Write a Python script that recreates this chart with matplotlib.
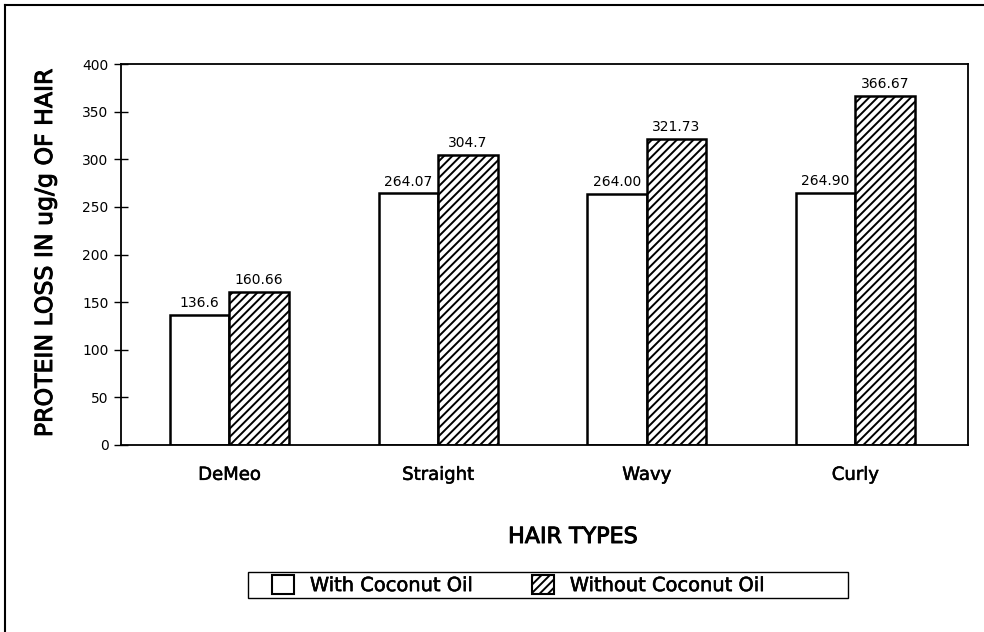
import numpy as np
import matplotlib.pyplot as plt
from matplotlib.lines import Line2D
from matplotlib.patches import Patch, Rectangle
import matplotlib.patheffects as pe

plt.rcParams['hatch.linewidth'] = 1.4

hair_types = ['DeMeo', 'Straight', 'Wavy', 'Curly']
with_oil = [136.6, 264.07, 264.00, 264.90]
without_oil = [160.66, 304.7, 321.73, 366.67]
with_labels = ['136.6', '264.07', '264.00', '264.90']
without_labels = ['160.66', '304.7', '321.73', '366.67']
yticks = [0, 50, 100, 150, 200, 250, 300, 350, 400]

bold_ish = [pe.withStroke(linewidth=0.7, foreground='black')]
thin_bold = [pe.withStroke(linewidth=0.4, foreground='black')]

fig = plt.figure(figsize=(9.84, 6.32), dpi=100)
ax = fig.add_axes([121/984, 1 - 445/632, (968 - 121)/984, (445 - 64)/632])

x = np.arange(len(hair_types))
w = 0.285
ax.bar(x - w/2, with_oil, w, color='white', edgecolor='black', linewidth=1.8)
ax.bar(x + w/2, without_oil, w, color='white', edgecolor='black', linewidth=1.8, hatch='////')

for i in range(len(x)):
    ax.text(x[i] - w/2, with_oil[i] + 5, with_labels[i], ha='center', va='bottom', fontsize=10)
    ax.text(x[i] + w/2, without_oil[i] + 5, without_labels[i], ha='center', va='bottom', fontsize=10)

ax.set_xlim(-0.52, 3.54)
ax.set_ylim(0, 400)
ax.set_yticks(yticks)
ax.set_yticklabels([str(t) for t in yticks], fontsize=10)
ax.tick_params(axis='y', direction='inout', length=10, width=1, pad=4)
ax.set_xticks(x)
ax.set_xticklabels(hair_types, fontsize=13)
for t in ax.get_xticklabels():
    t.set_path_effects(thin_bold)
ax.tick_params(axis='x', length=0, pad=15)
for s in ax.spines.values():
    s.set_linewidth(1.3)

fig.text(45/984, 1 - 252/632, 'PROTEIN LOSS IN ug/g OF HAIR', rotation=90,
         ha='center', va='center', fontsize=17, path_effects=bold_ish)
fig.text(573/984, 1 - 537/632, 'HAIR TYPES', ha='center', va='center', fontsize=16,
         path_effects=bold_ish)

# legend: entries without frame, box drawn separately
handles = [Patch(facecolor='white', edgecolor='black', linewidth=1.5),
           Patch(facecolor='white', edgecolor='black', linewidth=1.5, hatch='////')]
leg = fig.legend(handles, ['With Coconut Oil', 'Without Coconut Oil'], ncol=2,
                 loc='center left', bbox_to_anchor=(272/984, 1 - 585/632), borderaxespad=0,
                 borderpad=0, fontsize=14, frameon=False, handlelength=1.15,
                 handleheight=1.15, handletextpad=0.8, columnspacing=3.0)
for t in leg.get_texts():
    t.set_path_effects(thin_bold)
fig.add_artist(Rectangle((248/984, 1 - 598/632), 600/984, 26/632, transform=fig.transFigure,
                         facecolor='none', edgecolor='black', linewidth=1.0))

# outer frame of the scanned figure
fig.add_artist(Line2D([5/984, 1], [1 - 5/632, 1 - 5/632], color='black', linewidth=1.5))
fig.add_artist(Line2D([5/984, 5/984], [0, 1 - 5/632], color='black', linewidth=1.5))

fig.savefig('out.png', dpi=100)
